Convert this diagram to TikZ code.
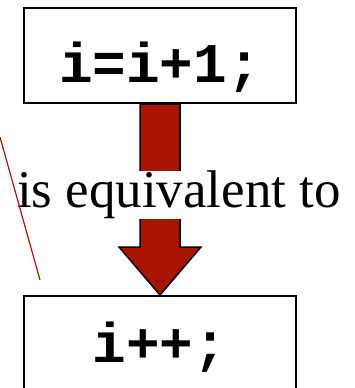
\documentclass[tikz,border=0pt]{standalone}
\usepackage{fontspec}
\setmainfont{Liberation Serif}
\setmonofont{Liberation Mono}
\usetikzlibrary{calc,positioning}
\definecolor{arrowred}{RGB}{168,20,0}

\begin{document}
\begin{tikzpicture}[
    x=1pt,
    y=-1pt,
    codebox/.style={draw,line width=2pt,minimum width=272pt,minimum height=95pt,
        inner sep=0pt,font=\fontsize{56}{56}\selectfont\ttfamily\bfseries},
    bigarrow/.style={draw,line width=1.5pt,fill=arrowred,line join=miter}
]
\useasboundingbox (0,0) rectangle (354,388);

% Statement boxes
\node[codebox] (incr) at (160,55.5) {\raisebox{-26.5pt}[0pt][0pt]{i=i+1;}};
\node[codebox] (postinc) at (160,343.5) {\raisebox{-18.5pt}[0pt][0pt]{i++;}};

% Thick arrow between the boxes
\draw[bigarrow]
    ($(incr.south)+(-20,0)$) -- ($(incr.south)+(20,0)$)
    -- ($(postinc.north)+(20,-48)$) -- ($(postinc.north)+(41,-48)$)
    -- (postinc.north)
    -- ($(postinc.north)+(-41,-48)$) -- ($(postinc.north)+(-20,-48)$)
    -- cycle;

% Label over the arrow
\node[fill=white,inner sep=0pt,font=\fontsize{53}{53}\selectfont]
    (equiv) at (179,195) {is equivalent to};

% Stray stroke
\coordinate (strokeA) at (0,137);
\coordinate (strokeB) at (40,280);
\draw[arrowred,line width=1.2pt] (strokeA) -- (strokeB);

\end{tikzpicture}
\end{document}
